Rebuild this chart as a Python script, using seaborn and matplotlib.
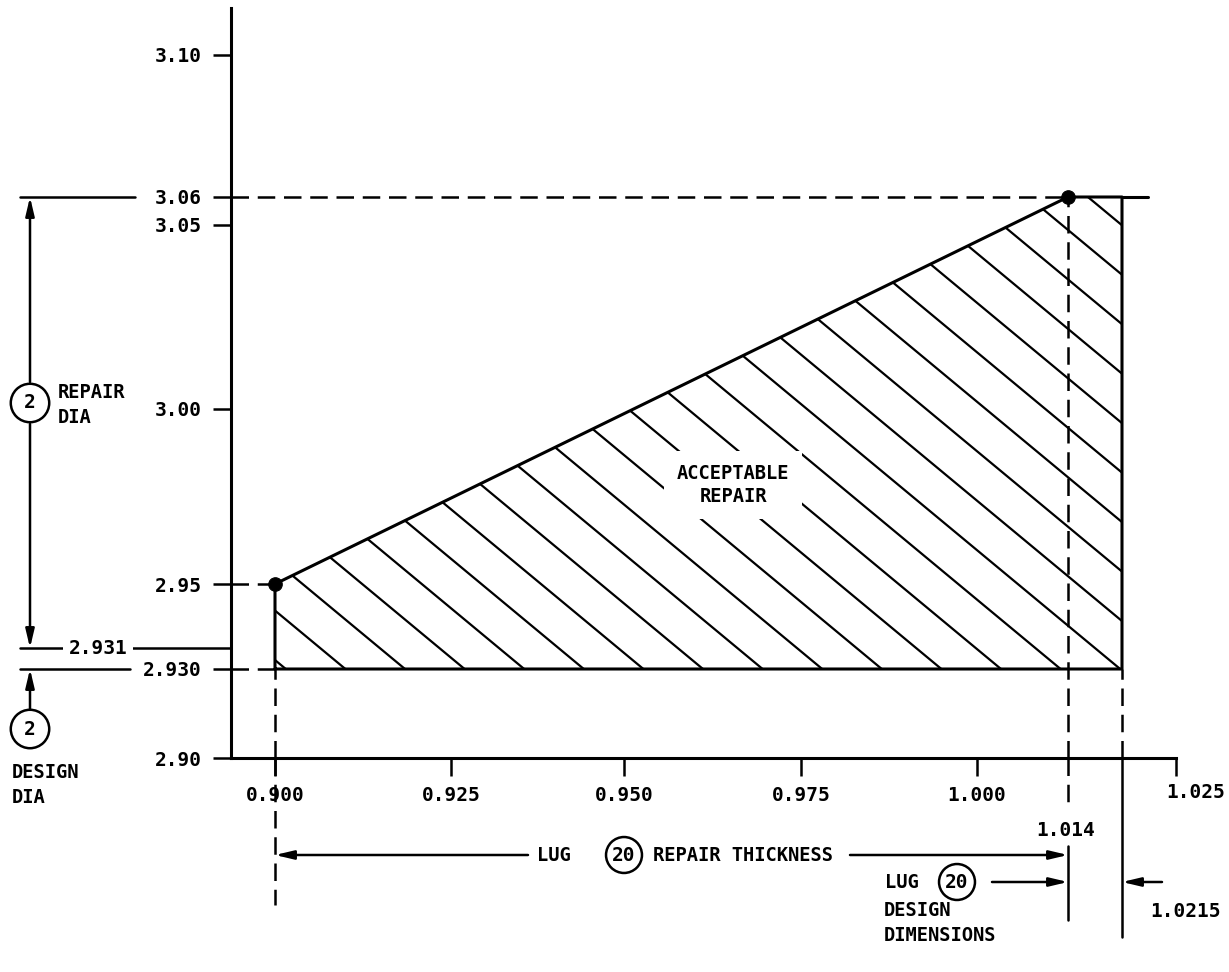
import numpy as np
import pandas as pd
import seaborn as sns
import matplotlib
matplotlib.use("Agg")
import matplotlib.pyplot as plt
from matplotlib.lines import Line2D
from matplotlib.transforms import IdentityTransform, ScaledTranslation

# acceptable repair region: lug thickness vs repair diameter
region_thickness = [0.900, 0.900, 1.014, 1.0215, 1.0215, 0.900]
region_diameter = [2.930, 2.950, 3.060, 3.060, 2.930, 2.930]
corner_thickness = [0.900, 1.014]
corner_diameter = [2.950, 3.060]

x_ticks = [0.900, 0.925, 0.950, 0.975, 1.000, 1.025]
x_ticklabels = ["0.900", "0.925", "0.950", "0.975", "1.000", "1.025"]
y_ticks = [2.90, 2.930, 2.95, 3.00, 3.05, 3.06, 3.10]
y_ticklabels = ["2.90", "2.930", "2.95", "3.00", "3.05", "3.06", "3.10"]

min_thickness = 0.900
design_thickness = 1.014
max_thickness = 1.0215
design_dia = 2.930
repair_dia_min = 2.931
repair_dia_max = 3.06

# the drawing is not to scale, so use a piecewise scale calibrated on the sheet
x_knots = [0.85, 0.900, 0.925, 0.950, 0.975, 1.000, 1.014, 1.0215, 1.025, 1.10]
x_pos = [-76, 275, 451, 624, 801, 977, 1068, 1122, 1176, 1702]
y_knots = [2.80, 2.90, 2.930, 2.931, 2.95, 3.00, 3.05, 3.06, 3.10, 3.20]
y_pos = [-1110, -758, -669, -648, -584, -409, -225, -197, -55, 297]


def fwd_x(v):
    return np.interp(v, x_knots, x_pos)


def inv_x(p):
    return np.interp(p, x_pos, x_knots)


def fwd_y(v):
    return np.interp(v, y_knots, y_pos)


def inv_y(p):
    return np.interp(p, y_pos, y_knots)


W, H = 1229, 972
AX_L, AX_R, AX_T, AX_B = 231, 1176, 8, 758


def ax_fx(px):
    return (px - AX_L) / (AX_R - AX_L)


def ax_fy(py):
    return (AX_B - py) / (AX_B - AX_T)


def fig_xy(px, py):
    return px / W, 1 - py / H


sns.set_theme(style="white")
plt.rcParams["font.family"] = ["DejaVu Sans Mono", "DejaVu Sans"]
plt.rcParams["font.weight"] = "bold"
plt.rcParams["text.color"] = "black"

fig = plt.figure(figsize=(W / 100, H / 100), dpi=100)
ax = fig.add_axes([AX_L / W, 1 - AX_B / H, (AX_R - AX_L) / W, (AX_B - AX_T) / H])
ax.set_xscale("function", functions=(fwd_x, inv_x))
ax.set_yscale("function", functions=(fwd_y, inv_y))

BLACK = "black"
LW = 1.8
FS = 14
FT = 13.5

# region outline and corner points
region_df = pd.DataFrame({"thickness": region_thickness, "diameter": region_diameter})
corner_df = pd.DataFrame({"thickness": corner_thickness, "diameter": corner_diameter})
fill = ax.fill(region_thickness, region_diameter, facecolor="white", edgecolor="none", zorder=1)[0]
sns.lineplot(data=region_df, x="thickness", y="diameter", sort=False, estimator=None,
             color=BLACK, lw=2.2, ax=ax, zorder=3)
sns.scatterplot(data=corner_df, x="thickness", y="diameter", color=BLACK, s=95,
                edgecolor=BLACK, ax=ax, zorder=5)

xlim = (inv_x(AX_L), 1.025)
ylim = (2.90, inv_y(-AX_T))
ax.set_xlim(*xlim)
ax.set_ylim(*ylim)

# wide hatch of the acceptable region (drawn in pixels, clipped to the region)
slope = 0.83
for k in range(0, 25):
    xb = 285.8 + 59.6 * k
    x0, y0 = xb + 60, 669 + slope * 60
    x1, y1 = xb - 1100, 669 - slope * 1100
    hl = Line2D([x0, x1], [H - y0, H - y1], transform=IdentityTransform(),
                color=BLACK, lw=1.6, zorder=2)
    ax.add_artist(hl)
    hl.set_clip_path(fill)

fig.text(*fig_xy(733, 485), "ACCEPTABLE\nREPAIR", ha="center", va="center", fontsize=FT,
         linespacing=1.3, zorder=6,
         bbox=dict(boxstyle="square,pad=0.7", fc="white", ec="none"))

# dashed construction lines inside the axes
dash = dict(color=BLACK, lw=LW, dashes=(7, 3.5))
ax.plot([xlim[0], min_thickness], [2.95, 2.95], **dash)
ax.plot([xlim[0], min_thickness], [design_dia, design_dia], **dash)
ax.plot([xlim[0], design_thickness], [repair_dia_max, repair_dia_max], **dash)
ax.plot([min_thickness, min_thickness], [ylim[0], design_dia], **dash)
ax.plot([design_thickness, design_thickness], [ylim[0], repair_dia_max], **dash)
ax.plot([max_thickness, max_thickness], [ylim[0], design_dia], **dash)
ax.plot([max_thickness, inv_x(1148)], [repair_dia_max, repair_dia_max], color=BLACK, lw=2.2)

# extension lines below the x axis (x in data, y in axes fraction)
xt = ax.get_xaxis_transform()
ax.plot([min_thickness] * 2, [0, ax_fy(905)], transform=xt, clip_on=False, **dash)
ax.plot([design_thickness] * 2, [0, ax_fy(808)], transform=xt, clip_on=False, **dash)
ax.plot([design_thickness] * 2, [ax_fy(846), ax_fy(920)], transform=xt, clip_on=False,
        color=BLACK, lw=LW)
ax.plot([max_thickness] * 2, [0, ax_fy(937)], transform=xt, clip_on=False, color=BLACK, lw=LW)

# extension lines left of the y axis (x in axes fraction, y in data)
yt = ax.get_yaxis_transform()
ax.plot([ax_fx(20), ax_fx(135)], [repair_dia_max] * 2, transform=yt, clip_on=False,
        color=BLACK, lw=LW)
ax.plot([ax_fx(20), 0], [repair_dia_min] * 2, transform=yt, clip_on=False, color=BLACK, lw=LW)
ax.plot([ax_fx(20), ax_fx(130)], [design_dia] * 2, transform=yt, clip_on=False,
        color=BLACK, lw=LW)
fig.text(*fig_xy(98, 648), "2.931", ha="center", va="center", fontsize=FS,
         bbox=dict(boxstyle="square,pad=0.3", fc="white", ec="none"))

arrow = dict(arrowstyle="-|>,head_length=0.55,head_width=0.13", color=BLACK, lw=LW,
             mutation_scale=20, shrinkA=0, shrinkB=0)

# repair diameter dimension
ax.annotate("", xy=(ax_fx(30), repair_dia_max), xycoords=("axes fraction", "data"),
            xytext=(ax_fx(30), ax_fy(382)), textcoords="axes fraction",
            arrowprops=arrow, annotation_clip=False)
ax.annotate("", xy=(ax_fx(30), repair_dia_min), xycoords=("axes fraction", "data"),
            xytext=(ax_fx(30), ax_fy(424)), textcoords="axes fraction",
            arrowprops=arrow, annotation_clip=False)
circ = dict(boxstyle="circle,pad=0.5", fc="white", ec=BLACK, lw=LW)
fig.text(*fig_xy(30, 403), "2", ha="center", va="center", fontsize=FS, bbox=circ)
fig.text(*fig_xy(58, 405), "REPAIR\nDIA", ha="left", va="center", fontsize=FT,
         linespacing=1.35)

# design diameter dimension
ax.annotate("", xy=(ax_fx(30), design_dia), xycoords=("axes fraction", "data"),
            xytext=(ax_fx(30), ax_fy(710)), textcoords="axes fraction",
            arrowprops=arrow, annotation_clip=False)
fig.text(*fig_xy(30, 729), "2", ha="center", va="center", fontsize=FS, bbox=circ)
fig.text(*fig_xy(12, 785), "DESIGN\nDIA", ha="left", va="center", fontsize=FT,
         linespacing=1.35)

# repair thickness dimension
ax.annotate("", xy=(min_thickness, ax_fy(855)), xycoords=("data", "axes fraction"),
            xytext=(ax_fx(528), ax_fy(855)), textcoords="axes fraction",
            arrowprops=arrow, annotation_clip=False)
ax.annotate("", xy=(design_thickness, ax_fy(855)), xycoords=("data", "axes fraction"),
            xytext=(ax_fx(850), ax_fy(855)), textcoords="axes fraction",
            arrowprops=arrow, annotation_clip=False)
fig.text(*fig_xy(554, 855), "LUG", ha="center", va="center", fontsize=FT)
circ20 = dict(boxstyle="circle,pad=0.32", fc="white", ec=BLACK, lw=LW)
fig.text(*fig_xy(624, 855), "20", ha="center", va="center", fontsize=FS, bbox=circ20)
fig.text(*fig_xy(653, 855), "REPAIR THICKNESS", ha="left", va="center", fontsize=FT)

# design thickness dimension
ax.annotate("", xy=(design_thickness, ax_fy(882)), xycoords=("data", "axes fraction"),
            xytext=(ax_fx(992), ax_fy(882)), textcoords="axes fraction",
            arrowprops=arrow, annotation_clip=False)
ax.annotate("", xy=(max_thickness, ax_fy(882)), xycoords=("data", "axes fraction"),
            xytext=(ax_fx(1162), ax_fy(882)), textcoords="axes fraction",
            arrowprops=arrow, annotation_clip=False)
fig.text(*fig_xy(902, 882), "LUG", ha="center", va="center", fontsize=FT)
fig.text(*fig_xy(957, 882), "20", ha="center", va="center", fontsize=FS, bbox=circ20)
fig.text(*fig_xy(884, 923), "DESIGN\nDIMENSIONS", ha="left", va="center", fontsize=FT,
         linespacing=1.35)
fig.text(*fig_xy(1066, 830), "1.014", ha="center", va="center", fontsize=FS)
fig.text(*fig_xy(1186, 911), "1.0215", ha="center", va="center", fontsize=FS)

# axes, ticks and labels
for side in ["top", "right"]:
    ax.spines[side].set_visible(False)
for side in ["left", "bottom"]:
    ax.spines[side].set_color(BLACK)
    ax.spines[side].set_linewidth(2.2)
ax.set_xticks(x_ticks, labels=x_ticklabels)
ax.set_yticks(y_ticks, labels=y_ticklabels)
ax.minorticks_off()
ax.tick_params(axis="both", which="major", direction="out", length=13, width=1.8,
               color=BLACK, labelcolor=BLACK, labelsize=FS, bottom=True, left=True)
ax.tick_params(axis="x", pad=7)
ax.tick_params(axis="y", pad=8)
last = ax.get_xticklabels()[-1]
last.set_transform(last.get_transform() + ScaledTranslation(0.2, 0.03, fig.dpi_scale_trans))
ax.set_xlabel("")
ax.set_ylabel("")
ax.grid(False)
ax.patch.set_alpha(0)

fig.savefig("out.png", dpi=100, facecolor="white")
